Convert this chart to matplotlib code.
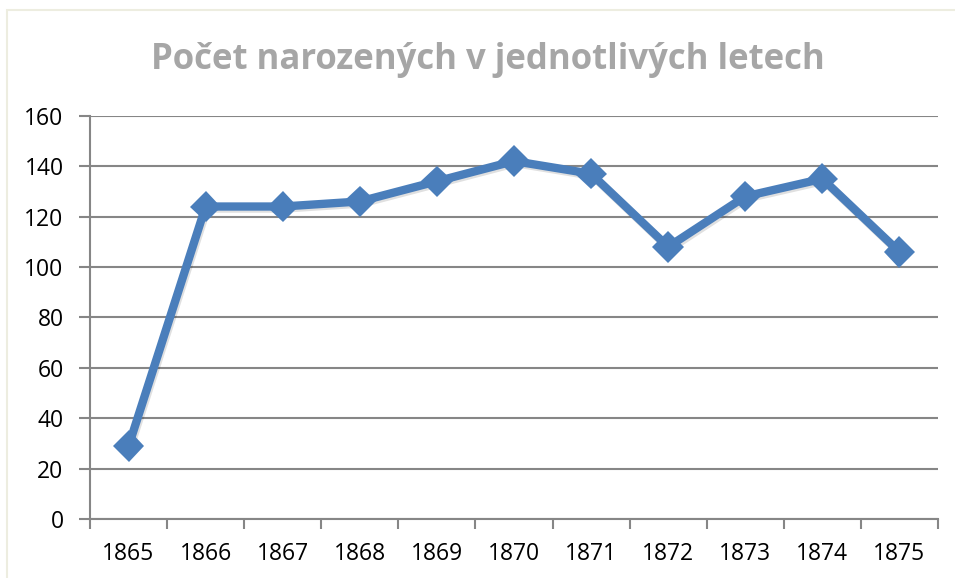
import matplotlib
matplotlib.use("Agg")
import matplotlib.pyplot as plt
import matplotlib.patheffects as pe
from matplotlib.patches import Rectangle

years = ["1865", "1866", "1867", "1868", "1869", "1870", "1871", "1872", "1873", "1874", "1875"]
births = [29, 124, 124, 126, 134, 142, 137, 108, 128, 135, 106]
y_ticks = [0, 20, 40, 60, 80, 100, 120, 140, 160]
title = "Počet narozených v jednotlivých letech"

W, H = 955, 578
fig = plt.figure(figsize=(W / 100, H / 100), dpi=100)
fig.patch.set_facecolor("white")

# chart area border
fig.patches.append(Rectangle((7 / W, -0.01), 1.0, 1 - 10 / H + 0.01, transform=fig.transFigure,
                             fill=False, edgecolor="#EDEDE0", linewidth=1.5, zorder=0))

ax = fig.add_axes([90 / W, 1 - 519.3 / H, (938 - 90) / W, (519.3 - 115.7) / H])
x = list(range(len(years)))
ax.plot(x, births, color="#4A7EBB", linewidth=6, marker="D", markersize=16,
        markeredgewidth=0, solid_joinstyle="miter", zorder=5,
        path_effects=[pe.SimpleLineShadow(offset=(1, -1.5), shadow_color="black", alpha=0.12),
                      pe.Normal()])

ax.set_xlim(-0.5, len(years) - 0.5)
ax.set_ylim(0, 160)
ax.set_yticks(y_ticks)
ax.set_yticklabels([str(v) for v in y_ticks])
ax.set_xticks(x)
ax.set_xticklabels(years)
ax.set_xticks([i - 0.5 for i in range(len(years) + 1)], minor=True)

grid_c = "#868686"
ax.grid(axis="y", color=grid_c, linewidth=1.5)
ax.set_axisbelow(True)
for s in ["top", "right"]:
    ax.spines[s].set_visible(False)
for s in ["left", "bottom"]:
    ax.spines[s].set_color(grid_c)
    ax.spines[s].set_linewidth(1.5)

ax.tick_params(axis="y", direction="out", length=8, width=1.5, color=grid_c,
               labelsize=16.5, labelcolor="black", pad=11)
ax.tick_params(axis="x", which="major", length=0, labelsize=16.5, labelcolor="black", pad=16)
ax.tick_params(axis="x", which="minor", direction="out", length=7, width=1.5, color=grid_c)
for lab in ax.get_xticklabels() + ax.get_yticklabels():
    lab.set_fontfamily("Open Sans")

fig.text(488 / W, 1 - 60 / H, title, ha="center", va="center", fontsize=25,
         fontweight="bold", color="#A6A6A6", fontfamily="Open Sans")

fig.savefig("out.png", dpi=100)
